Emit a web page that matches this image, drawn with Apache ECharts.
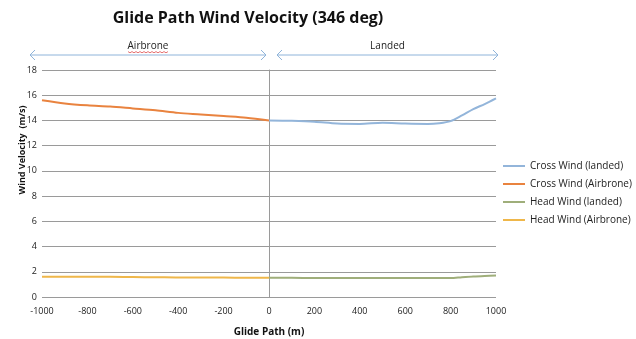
<!DOCTYPE html>
<html>
<head>
<meta charset="utf-8">
<script src="https://cdn.jsdelivr.net/npm/echarts@6/dist/echarts.min.js"></script>
<style>
  html, body { margin: 0; padding: 0; background: #fff; }
  #chart { width: 636px; height: 339px; }
</style>
</head>
<body>
<div id="chart"></div>
<script>
// Glide path positions (m) and wind components (m/s)
const airbornePath = [-1000, -900, -800, -700, -600, -500, -400, -300, -200, -100, 0];
const crossWindAirborne = [15.6, 15.35, 15.2, 15.1, 14.95, 14.8, 14.6, 14.48, 14.35, 14.22, 14.0];
const headWindAirborne = [1.6, 1.6, 1.6, 1.6, 1.58, 1.57, 1.55, 1.55, 1.54, 1.53, 1.52];

const landedPath = [0, 100, 200, 300, 400, 500, 600, 700, 750, 800, 850, 900, 950, 1000];
const crossWindLanded = [14.0, 13.97, 13.9, 13.75, 13.72, 13.82, 13.75, 13.72, 13.78, 13.95, 14.4, 14.9, 15.3, 15.75];
const headWindLanded = [1.52, 1.52, 1.5, 1.5, 1.5, 1.5, 1.5, 1.5, 1.5, 1.5, 1.57, 1.63, 1.67, 1.7];

const yTicks = [0, 2, 4, 6, 8, 10, 12, 14, 16, 18];
const xTicks = [-1000, -800, -600, -400, -200, 0, 200, 400, 600, 800, 1000];

const seriesNames = ['Cross Wind (landed)', 'Cross Wind (Airbrone)', 'Head Wind (landed)', 'Head Wind (Airbrone)'];
const seriesColors = ['#93b5da', '#e9833f', '#9fae7a', '#efb74a'];

const pair = (xs, ys) => xs.map((x, i) => [x, ys[i]]);

const FONT = '"Open Sans", "DejaVu Sans", sans-serif';

const chart = echarts.init(document.getElementById('chart'), null, { renderer: 'canvas' });

const lineSeries = (name, data, color) => ({
  name, type: 'line', data, smooth: 0.3, showSymbol: false,
  lineStyle: { color, width: 2 }, itemStyle: { color }
});

chart.setOption({
  animation: false,
  backgroundColor: '#fff',
  title: {
    text: 'Glide Path Wind Velocity (346 deg)',
    left: 243, top: 5, textAlign: 'center',
    textStyle: { fontFamily: FONT, fontSize: 16, fontWeight: 'bold', color: '#111' }
  },
  legend: {
    orient: 'vertical', left: 498, top: 156,
    itemWidth: 22, itemHeight: 2, itemGap: 8,
    icon: 'rect',
    textStyle: { fontFamily: FONT, fontSize: 10, color: '#222' },
    data: seriesNames
  },
  grid: { left: 42, right: 140, top: 70, bottom: 42, containLabel: false, outerBoundsMode: 'none' },
  xAxis: {
    type: 'value', min: -1000, max: 1000, interval: 200,
    name: 'Glide Path (m)', nameLocation: 'middle', nameGap: 30,
    nameTextStyle: { fontFamily: FONT, fontSize: 10, fontWeight: 'bold', color: '#111' },
    axisLine: { show: false },
    axisTick: { show: false },
    splitLine: { show: false },
    axisLabel: { fontFamily: FONT, fontSize: 9, color: '#222', margin: 10,
      formatter: v => xTicks.includes(v) ? String(v) : '' }
  },
  yAxis: {
    type: 'value', min: 0, max: 18, interval: 2,
    axisLine: { show: true, onZero: true, lineStyle: { color: '#9a9a9a', width: 1 } },
    axisTick: { show: true, length: 4, inside: false, lineStyle: { color: '#9a9a9a' } },
    axisLabel: { fontFamily: FONT, fontSize: 9, color: '#222', margin: 5,
      formatter: v => yTicks.includes(v) ? String(v) : '' },
    splitLine: { show: true, lineStyle: { color: '#9a9a9a', width: 1 } }
  },
  series: [
    lineSeries(seriesNames[0], pair(landedPath, crossWindLanded), seriesColors[0]),
    lineSeries(seriesNames[1], pair(airbornePath, crossWindAirborne), seriesColors[1]),
    lineSeries(seriesNames[2], pair(landedPath, headWindLanded), seriesColors[2]),
    lineSeries(seriesNames[3], pair(airbornePath, headWindAirborne), seriesColors[3])
  ]
});

// Phase annotations: double-headed arrows above the plot
const arrowColor = '#8fb4da';
const arrowY = 55;
function phaseArrow(x1, x2, label, underline) {
  const h = 5;
  const els = [
    { type: 'line', shape: { x1, y1: arrowY, x2, y2: arrowY }, style: { stroke: arrowColor, lineWidth: 1 } },
    { type: 'polyline', shape: { points: [[x1 + h, arrowY - h], [x1, arrowY], [x1 + h, arrowY + h]] }, style: { stroke: arrowColor, lineWidth: 1, fill: null } },
    { type: 'polyline', shape: { points: [[x2 - h, arrowY - h], [x2, arrowY], [x2 - h, arrowY + h]] }, style: { stroke: arrowColor, lineWidth: 1, fill: null } },
    { type: 'text', x: (x1 + x2) / 2, y: arrowY - 4,
      style: { text: label, fill: '#222', font: '10px ' + FONT, align: 'center', verticalAlign: 'bottom' } }
  ];
  if (underline) {
    const cx = (x1 + x2) / 2, w = 20, pts = [];
    for (let i = 0; i <= 2 * w; i += 2) pts.push([cx - w + i, arrowY - 3 + (i % 4 ? 0.8 : -0.4)]);
    els.push({ type: 'polyline', shape: { points: pts }, style: { stroke: '#e05050', lineWidth: 0.8, fill: null } });
  }
  return els;
}

const xLeft = chart.convertToPixel({ xAxisIndex: 0 }, -1000);
const xZero = chart.convertToPixel({ xAxisIndex: 0 }, 0);
const xRight = chart.convertToPixel({ xAxisIndex: 0 }, 1000);

chart.setOption({
  graphic: [
    ...phaseArrow(xLeft - 12, xZero - 3, 'Airbrone', true),
    ...phaseArrow(xZero + 8, xRight + 2, 'Landed', false),
    { type: 'text', x: 22, y: 150, rotation: Math.PI / 2,
      style: { text: 'Wind Velocity  (m/s)', fill: '#111', font: 'bold 9px ' + FONT, align: 'center', verticalAlign: 'middle' } }
  ]
});
</script>
</body>
</html>
